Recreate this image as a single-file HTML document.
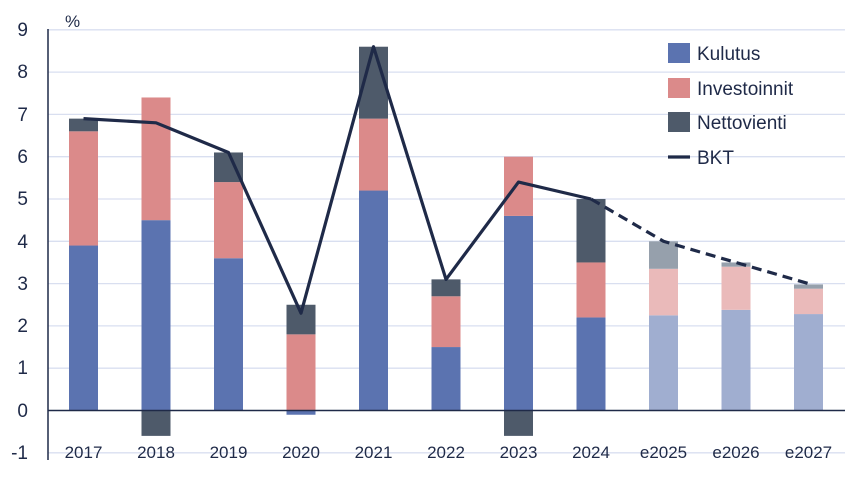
<!DOCTYPE html>
<html><head><meta charset="utf-8"><style>body{margin:0;background:#fff}svg{display:block}text{font-family:"Liberation Sans",sans-serif;fill:#1f2a48}</style></head><body>
<svg width="862" height="496" xmlns="http://www.w3.org/2000/svg">
<g stroke="#d9dff0" stroke-width="1.3">
<line x1="48" x2="845" y1="29.8" y2="29.8"/><line x1="48" x2="845" y1="72.1" y2="72.1"/><line x1="48" x2="845" y1="114.4" y2="114.4"/><line x1="48" x2="845" y1="156.7" y2="156.7"/><line x1="48" x2="845" y1="199" y2="199"/><line x1="48" x2="845" y1="241.3" y2="241.3"/><line x1="48" x2="845" y1="283.6" y2="283.6"/><line x1="48" x2="845" y1="325.9" y2="325.9"/><line x1="48" x2="845" y1="368.2" y2="368.2"/><line x1="48" x2="845" y1="452.8" y2="452.8"/>
</g>
<g font-size="19" text-anchor="end">
<text x="28" y="36">9</text><text x="28" y="78">8</text><text x="28" y="121">7</text><text x="28" y="163">6</text><text x="28" y="205">5</text><text x="28" y="248">4</text><text x="28" y="290">3</text><text x="28" y="332">2</text><text x="28" y="374">1</text><text x="28" y="417">0</text><text x="28" y="459">-1</text>
</g>
<text x="65" y="27" font-size="17">%</text>
<g>
<rect x="69" y="245.53" width="29" height="164.97" fill="#5b73b0"/><rect x="69" y="131.32" width="29" height="114.21" fill="#db8a8a"/><rect x="69" y="118.63" width="29" height="12.69" fill="#4e5a6a"/>
<rect x="141.5" y="220.15" width="29" height="190.35" fill="#5b73b0"/><rect x="141.5" y="97.48" width="29" height="122.67" fill="#db8a8a"/><rect x="141.5" y="410.5" width="29" height="25.38" fill="#4e5a6a"/>
<rect x="214" y="258.22" width="29" height="152.28" fill="#5b73b0"/><rect x="214" y="182.08" width="29" height="76.14" fill="#db8a8a"/><rect x="214" y="152.47" width="29" height="29.61" fill="#4e5a6a"/>
<rect x="286.5" y="410.5" width="29" height="4.23" fill="#5b73b0"/><rect x="286.5" y="334.36" width="29" height="76.14" fill="#db8a8a"/><rect x="286.5" y="304.75" width="29" height="29.61" fill="#4e5a6a"/>
<rect x="359" y="190.54" width="29" height="219.96" fill="#5b73b0"/><rect x="359" y="118.63" width="29" height="71.91" fill="#db8a8a"/><rect x="359" y="46.72" width="29" height="71.91" fill="#4e5a6a"/>
<rect x="431.5" y="347.05" width="29" height="63.45" fill="#5b73b0"/><rect x="431.5" y="296.29" width="29" height="50.76" fill="#db8a8a"/><rect x="431.5" y="279.37" width="29" height="16.92" fill="#4e5a6a"/>
<rect x="504" y="215.92" width="29" height="194.58" fill="#5b73b0"/><rect x="504" y="156.7" width="29" height="59.22" fill="#db8a8a"/><rect x="504" y="410.5" width="29" height="25.38" fill="#4e5a6a"/>
<rect x="576.5" y="317.44" width="29" height="93.06" fill="#5b73b0"/><rect x="576.5" y="262.45" width="29" height="54.99" fill="#db8a8a"/><rect x="576.5" y="199" width="29" height="63.45" fill="#4e5a6a"/>
<rect x="649" y="315.33" width="29" height="95.17" fill="#a0aed0"/><rect x="649" y="268.8" width="29" height="46.53" fill="#eababa"/><rect x="649" y="241.3" width="29" height="27.5" fill="#96a0ac"/>
<rect x="721.5" y="309.83" width="29" height="100.67" fill="#a0aed0"/><rect x="721.5" y="266.68" width="29" height="43.15" fill="#eababa"/><rect x="721.5" y="262.45" width="29" height="4.23" fill="#96a0ac"/>
<rect x="794" y="314.06" width="29" height="96.44" fill="#a0aed0"/><rect x="794" y="288.68" width="29" height="25.38" fill="#eababa"/><rect x="794" y="284.45" width="29" height="4.23" fill="#96a0ac"/>
</g>
<line x1="48" x2="48" y1="29" y2="460" stroke="#1f2a48" stroke-width="1.5"/>
<line x1="48" x2="845" y1="410.5" y2="410.5" stroke="#1f2a48" stroke-width="1.5"/>
<g font-size="17" text-anchor="middle">
<text x="83.5" y="458">2017</text><text x="156" y="458">2018</text><text x="228.5" y="458">2019</text><text x="301" y="458">2020</text><text x="373.5" y="458">2021</text><text x="446" y="458">2022</text><text x="518.5" y="458">2023</text><text x="591" y="458">2024</text><text x="663.5" y="458">e2025</text><text x="736" y="458">e2026</text><text x="808.5" y="458">e2027</text>
</g>
<polyline points="83.5,118.6 156,122.8 228.5,152.5 301,313.2 373.5,46.7 446,279.4 518.5,182.1 591,199" fill="none" stroke="#1f2a48" stroke-width="3.2" stroke-linejoin="round"/>
<polyline points="591,199 663.5,241.3 736,262.5 808.5,283.6" fill="none" stroke="#1f2a48" stroke-width="3.2" stroke-dasharray="10,6"/>
<rect x="668" y="43" width="22" height="20" fill="#5b73b0"/><text x="697" y="60" font-size="19">Kulutus</text>
<rect x="668" y="78" width="22" height="20" fill="#db8a8a"/><text x="697" y="95" font-size="19">Investoinnit</text>
<rect x="668" y="112" width="22" height="20" fill="#4e5a6a"/><text x="697" y="129" font-size="19">Nettovienti</text>
<line x1="668" x2="690" y1="157" y2="157" stroke="#1f2a48" stroke-width="3.2"/><text x="697" y="164" font-size="19">BKT</text>
</svg>
</body></html>
